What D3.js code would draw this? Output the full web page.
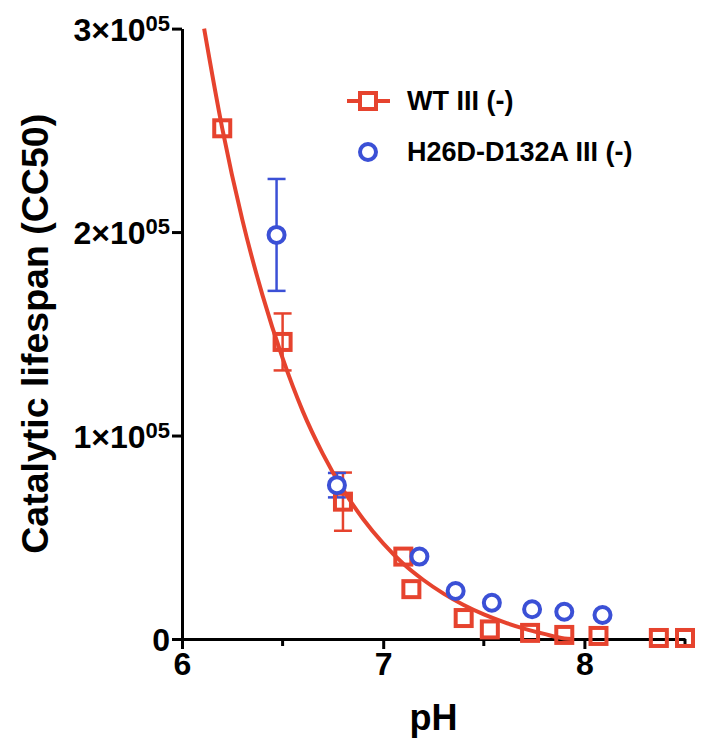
<!DOCTYPE html>
<html>
<head>
<meta charset="utf-8">
<script src="https://d3js.org/d3.v7.min.js"></script>
<style>
  body { margin: 0; background: #fff; }
  text { font-family: "Liberation Sans", Arial, sans-serif; font-weight: bold; }
</style>
</head>
<body>
<svg width="714" height="746"></svg>
<script>
// WT III (-) : red squares
var wtPH  = [6.2, 6.5, 6.8, 7.1, 7.14, 7.4, 7.53, 7.73, 7.9, 8.07, 8.37, 8.5];
var wtVal = [251000, 146000, 67500, 40500, 24500, 10300, 4700, 3000, 2000, 1500, 500, 500];
var wtErr = [0, 14000, 14300, 0, 0, 0, 0, 0, 0, 0, 0, 0];

// H26D-D132A III (-) : blue circles
var mutPH  = [6.47, 6.77, 7.18, 7.36, 7.54, 7.74, 7.9, 8.09];
var mutVal = [198600, 75600, 40500, 23600, 17800, 14600, 13400, 11800];
var mutErr = [27500, 6000, 0, 0, 0, 0, 0, 0];

// fitted curve for WT
var fitPH  = [6.11, 6.2, 6.3, 6.4, 6.5, 6.6, 6.7, 6.8, 6.9, 7.0, 7.1, 7.2, 7.3, 7.4, 7.5, 7.6, 7.7, 7.8, 7.9, 7.94];
var fitVal = [300000, 251000, 206000, 169000, 138000, 112000, 91000, 73500, 59000, 47000, 37000, 29000, 22300, 16700, 12100, 8300, 5100, 2500, 300, 0];

var xTicks = [6, 7, 8];
var xMinor = [6.5, 7.5, 8.5];
var yTicks = [0, 100000, 200000, 300000];

var red = "#e6432e", blue = "#3b50d6";

var svg = d3.select("svg");
var x = d3.scaleLinear().domain([6, 8.5]).range([182, 685]);
var y = d3.scaleLinear().domain([0, 300000]).range([639, 28.6]);

// axes
var gx = svg.append("g").attr("transform", "translate(0," + y(0) + ")")
  .call(d3.axisBottom(x).tickValues(xTicks).tickSize(10).tickSizeOuter(0).tickPadding(3).tickFormat(d3.format("d")));
gx.selectAll(".tick text").attr("font-size", 32).attr("fill", "#000");
gx.selectAll(".tick line").attr("stroke-width", 3);
gx.select(".domain").attr("stroke-width", 3);
gx.selectAll(".minor").data(xMinor).enter().append("line")
  .attr("x1", d => x(d)).attr("x2", d => x(d)).attr("y1", 0).attr("y2", 7)
  .attr("stroke", "#000").attr("stroke-width", 3);

var gy = svg.append("g").attr("transform", "translate(" + x(6) + ",0)")
  .call(d3.axisLeft(y).tickValues(yTicks).tickSize(10).tickSizeOuter(0).tickPadding(2));
gy.selectAll(".tick line").attr("stroke-width", 3);
gy.select(".domain").attr("stroke-width", 3);
gy.selectAll(".tick text").attr("font-size", 32).attr("fill", "#000").attr("dy", "0.36em")
  .each(function(d) {
    var t = d3.select(this).text("");
    if (d === 0) { t.text("0"); return; }
    t.append("tspan").text((d / 100000) + "\u00d710");
    t.append("tspan").attr("dy", "-0.45em").attr("font-size", 22).text("05");
  });

// axis titles
svg.append("text").attr("x", (x(6) + x(8.5)) / 2).attr("y", 730).attr("text-anchor", "middle")
  .attr("font-size", 36).text("pH");
svg.append("text").attr("transform", "translate(48," + y(150000) + ") rotate(-90)")
  .attr("text-anchor", "middle").attr("font-size", 36)
  .attr("textLength", 440).attr("lengthAdjust", "spacingAndGlyphs")
  .text("Catalytic lifespan (CC50)");

function errorBars(px, vals, errs, color) {
  var g = svg.append("g").attr("stroke", color).attr("stroke-width", 2.5);
  var idx = d3.range(px.length).filter(i => errs[i] > 0);
  idx.forEach(function(i) {
    var cx = x(px[i]);
    g.append("line").attr("x1", cx).attr("x2", cx).attr("y1", y(vals[i] + errs[i])).attr("y2", y(vals[i] - errs[i]));
    [vals[i] + errs[i], vals[i] - errs[i]].forEach(function(v) {
      g.append("line").attr("x1", cx - 9).attr("x2", cx + 9).attr("y1", y(v)).attr("y2", y(v));
    });
  });
}
errorBars(wtPH, wtVal, wtErr, red);
errorBars(mutPH, mutVal, mutErr, blue);

// WT squares
svg.append("g").selectAll("rect").data(wtPH).enter().append("rect")
  .attr("x", (d, i) => x(d) - 8).attr("y", (d, i) => y(wtVal[i]) - 8)
  .attr("width", 16).attr("height", 16)
  .attr("fill", "none").attr("stroke", red).attr("stroke-width", 4);

// fit curve
var line = d3.line().x(d => x(d[0])).y(d => y(d[1])).curve(d3.curveMonotoneX);
svg.append("path").datum(fitPH.map((p, i) => [p, fitVal[i]]))
  .attr("d", line).attr("fill", "none").attr("stroke", red).attr("stroke-width", 4);

// mutant circles
svg.append("g").selectAll("circle").data(mutPH).enter().append("circle")
  .attr("cx", d => x(d)).attr("cy", (d, i) => y(mutVal[i])).attr("r", 8)
  .attr("fill", "#fff").attr("stroke", blue).attr("stroke-width", 4);

// legend
var lg = svg.append("g").attr("transform", "translate(368,101)");
lg.append("line").attr("x1", -21).attr("x2", 22).attr("stroke", red).attr("stroke-width", 4);
lg.append("rect").attr("x", -8).attr("y", -8).attr("width", 16).attr("height", 16)
  .attr("fill", "#fff").attr("stroke", red).attr("stroke-width", 4);
lg.append("text").attr("x", 39).attr("y", 9).attr("font-size", 27).text("WT III (-)");
lg.append("circle").attr("cy", 51).attr("r", 8).attr("fill", "#fff").attr("stroke", blue).attr("stroke-width", 4);
lg.append("text").attr("x", 39).attr("y", 60).attr("font-size", 27).text("H26D-D132A III (-)");
</script>
</body>
</html>
